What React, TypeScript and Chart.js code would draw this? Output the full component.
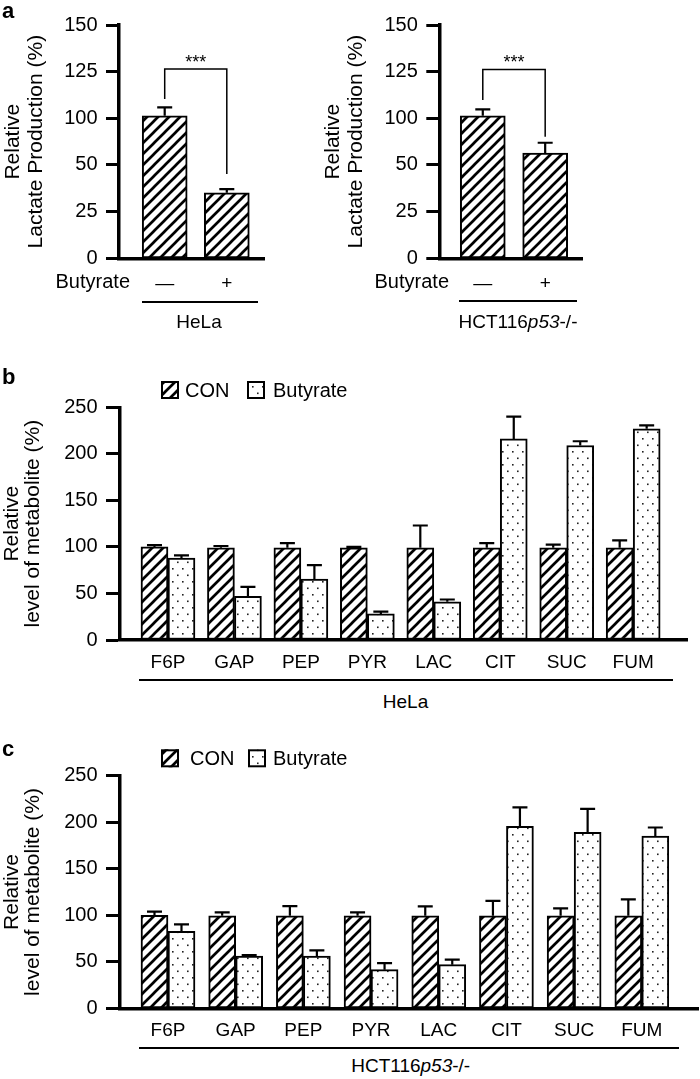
import React, { useEffect, useRef } from "react";
import { Chart, registerables } from "chart.js";

Chart.register(...registerables);

const FONT = '"Liberation Sans", Arial, Helvetica, sans-serif';

// ---------- data ----------
// Panel a: the printed y axis reads 0, 25, 50, 100, 125, 150 on six evenly spaced ticks
// (the label "75" is skipped in the original). Values below are given on that evenly
// spaced 0–125 grid, so a bar at the tick printed "100" sits at 75 here.
const A_TICK_LABELS = ["0", "25", "50", "100", "125", "150"];
const A_GROUPS = ["—", "+"];
const HELA_LACTATE = [76.4, 35.1];
const HELA_LACTATE_ERR = [4.5, 2];
const HCT_LACTATE = [76.4, 56.4];
const HCT_LACTATE_ERR = [3.4, 5.5];
// significance bracket: [top, left leg end, right leg end] on the same grid
const HELA_SIG = [101.4, 85.3, 45.2];
const HCT_SIG = [101.2, 84.8, 65.1];

const METABOLITES = ["F6P", "GAP", "PEP", "PYR", "LAC", "CIT", "SUC", "FUM"];
const HELA_CON = [100, 99, 99, 99, 99, 99, 99, 99];
const HELA_CON_ERR = [2, 2, 5, 1, 24, 5, 3.5, 8];
const HELA_BUT = [88, 47, 65.5, 28, 41, 216, 209, 227];
const HELA_BUT_ERR = [3, 10, 15, 2.5, 2.5, 24, 4.5, 3.5];
const HCT_CON = [100, 99.5, 99.5, 99.5, 99.5, 99.5, 99.5, 99.5];
const HCT_CON_ERR = [4, 3.5, 10.4, 3.5, 10, 16, 8, 17.5];
const HCT_BUT = [82.7, 56.2, 56.2, 41.5, 46.9, 195.5, 189, 185];
const HCT_BUT_ERR = [7.5, 1, 6, 7, 5.4, 20.4, 25.4, 9.3];
const B_TICKS_STEP = 50;

// ---------- patterns ----------
function makeHatch(): CanvasPattern {
  const s = 11;
  const c = document.createElement("canvas");
  c.width = s;
  c.height = s;
  const g = c.getContext("2d")!;
  g.fillStyle = "#fff";
  g.fillRect(0, 0, s, s);
  g.strokeStyle = "#000";
  g.lineWidth = 2.7;
  g.beginPath();
  g.moveTo(-2, s + 2);
  g.lineTo(s + 2, -2);
  g.moveTo(-2, 2);
  g.lineTo(2, -2);
  g.moveTo(s - 2, s + 2);
  g.lineTo(s + 2, s - 2);
  g.stroke();
  return g.createPattern(c, "repeat")!;
}

function makeDots(): CanvasPattern {
  const w = 10;
  const h = 13;
  const c = document.createElement("canvas");
  c.width = w;
  c.height = h;
  const g = c.getContext("2d")!;
  g.fillStyle = "#fff";
  g.fillRect(0, 0, w, h);
  g.fillStyle = "#222";
  g.fillRect(2, 3, 1.6, 1.6);
  g.fillRect(7, 9.5, 1.6, 1.6);
  return g.createPattern(c, "repeat")!;
}

// ---------- plugins ----------
const errorBars = {
  id: "errorBars",
  afterDatasetsDraw(chart: any) {
    const ctx = chart.ctx;
    const ys = chart.scales.y;
    chart.data.datasets.forEach((ds: any, di: number) => {
      if (!ds.errors) return;
      const meta = chart.getDatasetMeta(di);
      meta.data.forEach((bar: any, i: number) => {
        const v = ds.data[i].y;
        const top = ys.getPixelForValue(v + ds.errors[i]);
        const cap = 15;
        ctx.save();
        ctx.strokeStyle = "#000";
        ctx.lineWidth = 2.2;
        ctx.beginPath();
        ctx.moveTo(bar.x, bar.y);
        ctx.lineTo(bar.x, top);
        ctx.moveTo(bar.x - cap / 2, top);
        ctx.lineTo(bar.x + cap / 2, top);
        ctx.stroke();
        ctx.restore();
      });
    });
  },
};

const sigBracket = {
  id: "sigBracket",
  afterDatasetsDraw(chart: any, _args: any, opts: any) {
    if (!opts || !opts.values) return;
    const ctx = chart.ctx;
    const xs = chart.scales.x;
    const ys = chart.scales.y;
    const [top, l, r] = opts.values;
    const x1 = xs.getPixelForValue(1);
    const x2 = xs.getPixelForValue(2);
    const yt = ys.getPixelForValue(top);
    ctx.save();
    ctx.strokeStyle = "#000";
    ctx.lineWidth = 1.5;
    ctx.beginPath();
    ctx.moveTo(x1, ys.getPixelForValue(l));
    ctx.lineTo(x1, yt);
    ctx.lineTo(x2, yt);
    ctx.lineTo(x2, ys.getPixelForValue(r));
    ctx.stroke();
    ctx.fillStyle = "#000";
    ctx.font = `18px ${FONT}`;
    ctx.textAlign = "center";
    ctx.textBaseline = "alphabetic";
    ctx.fillText(opts.text, (x1 + x2) / 2, yt - 1);
    ctx.restore();
  },
};

const patLegend = {
  id: "patLegend",
  afterDraw(chart: any, _args: any, opts: any) {
    if (!opts || !opts.items) return;
    const ctx = chart.ctx;
    const { left, top } = chart.chartArea;
    const cy = top + opts.dy;
    ctx.save();
    opts.items.forEach((it: any) => {
      const ds = chart.data.datasets[it.ds];
      const bx = left + it.box;
      ctx.fillStyle = ds.backgroundColor;
      ctx.fillRect(bx, cy - 9, 18, 18);
      ctx.strokeStyle = "#000";
      ctx.lineWidth = 2;
      ctx.strokeRect(bx + 1, cy - 8, 16, 16);
      ctx.fillStyle = "#000";
      ctx.font = `20px ${FONT}`;
      ctx.textAlign = "left";
      ctx.textBaseline = "middle";
      ctx.fillText(ds.label, left + it.text, cy + 1);
    });
    ctx.restore();
  },
};

Chart.register(errorBars, sigBracket, patLegend);

// ---------- config builders ----------
function lactateConfig(values: number[], errs: number[], sig: number[], xr: number[], padRight: number, yW: number) {
  const hatch = makeHatch();
  return {
    type: "bar",
    data: {
      datasets: [
        {
          label: "Lactate",
          data: values.map((y, i) => ({ x: i + 1, y })),
          errors: errs,
          backgroundColor: hatch,
          borderColor: "#000",
          borderWidth: 2,
          borderSkipped: false,
          barThickness: 45,
        },
      ],
    },
    options: {
      animation: false,
      responsive: false,
      devicePixelRatio: 1,
      layout: { padding: { top: 25, right: padRight, left: 0, bottom: 0 } },
      plugins: {
        legend: { display: false },
        tooltip: { enabled: false },
        sigBracket: { values: sig, text: "***" },
      },
      scales: {
        x: {
          type: "linear",
          min: xr[0],
          max: xr[1],
          offset: false,
          grid: { display: false, drawTicks: false, offset: false },
          border: { display: true, width: 3.5, color: "#000" },
          afterBuildTicks: (s: any) => {
            s.ticks = A_GROUPS.map((_, i) => ({ value: i + 1 }));
          },
          afterFit: (s: any) => {
            s.height = 41.7;
          },
          ticks: {
            autoSkip: false,
            maxRotation: 0,
            padding: 14,
            color: "#000",
            font: { family: FONT, size: 19 },
            callback: (_v: any, i: number) => A_GROUPS[i],
          },
        },
        y: {
          min: 0,
          max: 125,
          grid: { display: true, drawOnChartArea: false, drawTicks: true, tickLength: 13, tickWidth: 3, tickColor: "#000", color: "#000" },
          border: { display: true, width: 3.5, color: "#000" },
          afterFit: (s: any) => {
            s.width = yW;
          },
          ticks: {
            stepSize: 25,
            padding: 8.5,
            color: "#000",
            font: { family: FONT, size: 20 },
            callback: (_v: any, i: number) => A_TICK_LABELS[i],
          },
          title: {
            display: true,
            text: ["Relative", "Lactate Production (%)"],
            color: "#000",
            font: { family: FONT, size: 21, lineHeight: 1.12 },
            padding: { top: 1, bottom: 0 },
          },
        },
      },
    },
  };
}

function metaboliteConfig(
  con: number[], conErr: number[], but: number[], butErr: number[],
  xr: number[], padTop: number, padRight: number, xH: number, legend: any
) {
  const hatch = makeHatch();
  const dots = makeDots();
  return {
    type: "bar",
    data: {
      datasets: [
        {
          label: "CON",
          data: con.map((y, i) => ({ x: i + 1, y })),
          errors: conErr,
          backgroundColor: hatch,
          borderColor: "#000",
          borderWidth: 2,
          borderSkipped: false,
          barThickness: 27,
        },
        {
          label: "Butyrate",
          data: but.map((y, i) => ({ x: i + 1, y })),
          errors: butErr,
          backgroundColor: dots,
          borderColor: "#000",
          borderWidth: 2,
          borderSkipped: false,
          barThickness: 27,
        },
      ],
    },
    options: {
      animation: false,
      responsive: false,
      devicePixelRatio: 1,
      layout: { padding: { top: padTop, right: padRight, left: 0, bottom: 0 } },
      plugins: {
        legend: { display: false },
        tooltip: { enabled: false },
        patLegend: legend,
      },
      scales: {
        x: {
          type: "linear",
          min: xr[0],
          max: xr[1],
          offset: false,
          grid: { display: false, drawTicks: false, offset: false },
          border: { display: true, width: 3.5, color: "#000" },
          afterBuildTicks: (s: any) => {
            s.ticks = METABOLITES.map((_, i) => ({ value: i + 1 }));
          },
          afterFit: (s: any) => {
            s.height = xH;
          },
          ticks: {
            autoSkip: false,
            maxRotation: 0,
            padding: 11,
            color: "#000",
            font: { family: FONT, size: 19 },
            callback: (_v: any, i: number) => METABOLITES[i],
          },
        },
        y: {
          min: 0,
          max: 250,
          grid: { display: true, drawOnChartArea: false, drawTicks: true, tickLength: 14, tickWidth: 3, tickColor: "#000", color: "#000" },
          border: { display: true, width: 3.5, color: "#000" },
          afterFit: (s: any) => {
            s.width = 120;
          },
          ticks: {
            stepSize: B_TICKS_STEP,
            padding: 8.5,
            color: "#000",
            font: { family: FONT, size: 20 },
          },
          title: {
            display: true,
            text: ["Relative", "level of metabolite (%)"],
            color: "#000",
            font: { family: FONT, size: 21, lineHeight: 1.03 },
            padding: { top: 1, bottom: 0 },
          },
        },
      },
    },
  };
}

function ChartCanvas({ make, left, top, width, height }: { make: () => any; left: number; top: number; width: number; height: number }) {
  const ref = useRef<HTMLCanvasElement>(null);
  useEffect(() => {
    const chart = new Chart(ref.current as HTMLCanvasElement, make());
    return () => chart.destroy();
  }, []);
  return (
    <canvas
      ref={ref}
      width={width}
      height={height}
      style={{ position: "absolute", left, top, width, height }}
    />
  );
}

const txt = (extra: React.CSSProperties): React.CSSProperties => ({
  position: "absolute",
  fontFamily: FONT,
  color: "#000",
  lineHeight: 1,
  whiteSpace: "nowrap",
  ...extra,
});

const hline = (left: number, right: number, y: number): React.CSSProperties => ({
  position: "absolute",
  left,
  width: right - left,
  top: y - 1,
  height: 2,
  background: "#000",
});

export default function App() {
  return (
    <div style={{ position: "absolute", left: 0, top: 0, width: 700, height: 1079, background: "#fff", overflow: "hidden" }}>
      <ChartCanvas
        left={0}
        top={0}
        width={300}
        height={300}
        make={() => lactateConfig(HELA_LACTATE, HELA_LACTATE_ERR, HELA_SIG, [0.264, 2.599], 36, 119)}
      />
      <ChartCanvas
        left={320}
        top={0}
        width={300}
        height={300}
        make={() => lactateConfig(HCT_LACTATE, HCT_LACTATE_ERR, HCT_SIG, [0.303, 2.595], 37.7, 119.3)}
      />
      <ChartCanvas
        left={0}
        top={370}
        width={700}
        height={305}
        make={() =>
          metaboliteConfig(HELA_CON, HELA_CON_ERR, HELA_BUT, HELA_BUT_ERR, [0.278, 8.81], 37.3, 13, 35, {
            dy: -17.3,
            items: [
              { ds: 0, box: 41, text: 65 },
              { ds: 1, box: 127, text: 153 },
            ],
          })
        }
      />
      <ChartCanvas
        left={0}
        top={740}
        width={700}
        height={300}
        make={() =>
          metaboliteConfig(HCT_CON, HCT_CON_ERR, HCT_BUT, HCT_BUT_ERR, [0.291, 8.83], 35.7, 2, 31.7, {
            dy: -17.4,
            items: [
              { ds: 0, box: 41, text: 70 },
              { ds: 1, box: 128, text: 153 },
            ],
          })
        }
      />

      {/* panel letters */}
      <div style={txt({ left: 2, top: -0.5, fontSize: 22, fontWeight: 700 })}>a</div>
      <div style={txt({ left: 2, top: 366.4, fontSize: 22, fontWeight: 700 })}>b</div>
      <div style={txt({ left: 2, top: 738, fontSize: 22, fontWeight: 700 })}>c</div>

      {/* panel a row labels */}
      <div style={txt({ left: 30, width: 100, textAlign: "right", top: 271.2, fontSize: 20 })}>Butyrate</div>
      <div style={txt({ left: 349, width: 100, textAlign: "right", top: 271.2, fontSize: 20 })}>Butyrate</div>

      {/* group lines and labels */}
      <div style={hline(141.7, 258.3, 301.7)} />
      <div style={txt({ left: 99, width: 200, textAlign: "center", top: 311.5, fontSize: 19 })}>HeLa</div>
      <div style={hline(459.3, 577.3, 301)} />
      <div style={txt({ left: 418, width: 200, textAlign: "center", top: 311.5, fontSize: 19 })}>
        HCT116<i>p53</i>-/-
      </div>

      <div style={hline(139.3, 672.7, 680)} />
      <div style={txt({ left: 305.5, width: 200, textAlign: "center", top: 691.5, fontSize: 19 })}>HeLa</div>

      <div style={hline(139.3, 679.3, 1047.7)} />
      <div style={txt({ left: 310.7, width: 200, textAlign: "center", top: 1055.5, fontSize: 19 })}>
        HCT116<i>p53</i>-/-
      </div>
    </div>
  );
}
